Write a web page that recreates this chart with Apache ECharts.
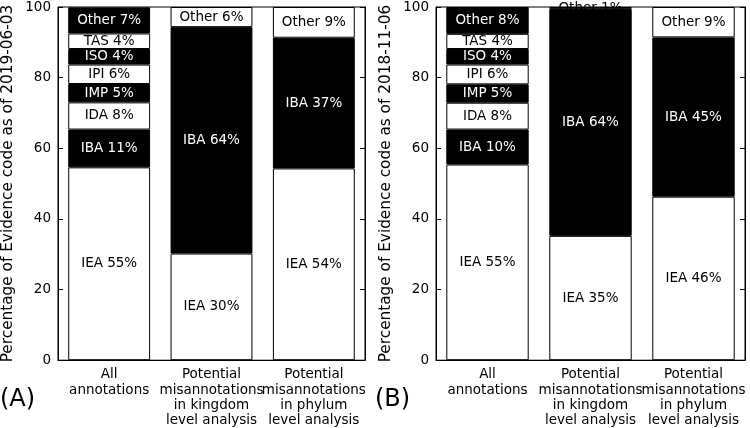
<!DOCTYPE html>
<html>
<head>
<meta charset="utf-8">
<script src="https://cdn.jsdelivr.net/npm/echarts@6/dist/echarts.min.js"></script>
<style>
html,body{margin:0;padding:0;background:#fff;}
#chart{width:750px;height:428px;}
</style>
</head>
<body>
<div id="chart"></div>
<script>
const categories = ['All\nannotations', 'Potential\nmisannotations\nin kingdom\nlevel analysis', 'Potential\nmisannotations\nin phylum\nlevel analysis'];
const codesAll = ['IEA','IBA','IDA','IMP','IPI','ISO','TAS','Other'];
const codesMis = ['IEA','IBA','Other'];
const valuesA_all = [54.6,10.7,7.7,5.2,5.5,4.4,4.4,7.4];
const valuesA_kingdom = [30.2,64.1,5.7];
const valuesA_phylum = [54.3,37.0,8.7];
const valuesB_all = [55.4,9.9,7.6,5.2,5.6,4.4,4.3,7.6];
const valuesB_kingdom = [35.2,64.2,0.6];
const valuesB_phylum = [46.3,45.1,8.6];
const yTicks = [0,20,40,60,80,100];
const panelLabels = ['(A)','(B)'];
const yNames = ['Percentage of Evidence code as of 2019-06-03','Percentage of Evidence code as of 2018-11-06'];

const FONT = 'DejaVu Sans';
const FS = 13.5;

const panels = [
  {codes:[codesAll,codesMis,codesMis], values:[valuesA_all,valuesA_kingdom,valuesA_phylum]},
  {codes:[codesAll,codesMis,codesMis], values:[valuesB_all,valuesB_kingdom,valuesB_phylum]}
];

const grids = [
  {left:57, top:7, width:308, height:356},
  {left:436, top:7, width:309, height:356}
];

const option = {
  animation:false,
  backgroundColor:'#fff',
  textStyle:{fontFamily:FONT},
  title: panelLabels.map((t,i)=>({
    text:t, left: i===0 ? 0 : 375, top: 388, padding:0,
    textStyle:{fontFamily:FONT, fontSize:24, fontWeight:'normal', color:'#000'}
  })),
  grid: grids.map(g=>Object.assign({show:true, borderColor:'#000', borderWidth:1, backgroundColor:'transparent'}, g)),
  xAxis: grids.map((g,i)=>({
    type:'category', gridIndex:i, data:categories,
    axisTick:{show:false},
    axisLine:{lineStyle:{color:'#000', width:1}},
    axisLabel:{interval:0, color:'#000', fontFamily:FONT, fontSize:FS, lineHeight:15.2, margin:7}
  })),
  yAxis: [],
  series: []
};

grids.forEach((g,i)=>{
  option.yAxis.push({
    type:'value', gridIndex:i, min:yTicks[0], max:yTicks[yTicks.length-1], interval:20,
    position:'left',
    name:yNames[i], nameLocation:'middle', nameGap:42, nameRotate:90,
    nameTextStyle:{fontFamily:FONT, fontSize:15.3, color:'#000'},
    axisLine:{show:true, lineStyle:{color:'#000', width:1}},
    axisTick:{show:true, inside:true, length:5, lineStyle:{color:'#000'}},
    axisLabel:{color:'#000', fontFamily:FONT, fontSize:FS, margin:7},
    splitLine:{show:false}
  });
  option.yAxis.push({
    type:'value', gridIndex:i, min:yTicks[0], max:yTicks[yTicks.length-1], interval:20,
    position:'right',
    axisLine:{show:true, lineStyle:{color:'#000', width:1}},
    axisTick:{show:true, inside:true, length:5, lineStyle:{color:'#000'}},
    axisLabel:{show:false},
    splitLine:{show:false}
  });
});

panels.forEach((p,pi)=>{
  const maxLevels = Math.max(...p.values.map(v=>v.length));
  for(let l=0;l<maxLevels;l++){
    const black = l % 2 === 1;
    const data = p.values.map(v => l < v.length ? v[l] : '-');
    option.series.push({
      type:'bar', xAxisIndex:pi, yAxisIndex:pi*2, stack:'s'+pi,
      barWidth:'80%',
      data:data,
      itemStyle:{color: black ? '#000' : '#fff', borderColor:'#000', borderWidth:1},
      label:{
        show:true, position:'inside',
        color: black ? '#fff' : '#000',
        fontFamily:FONT, fontSize:FS,
        formatter: (params)=>{
          const codes = p.codes[params.dataIndex];
          return codes[l] + ' ' + Math.round(params.value) + '%';
        }
      }
    });
  }
});

const chart = echarts.init(document.getElementById('chart'), null, {renderer:'canvas'});
chart.setOption(option);
</script>
</body>
</html>
